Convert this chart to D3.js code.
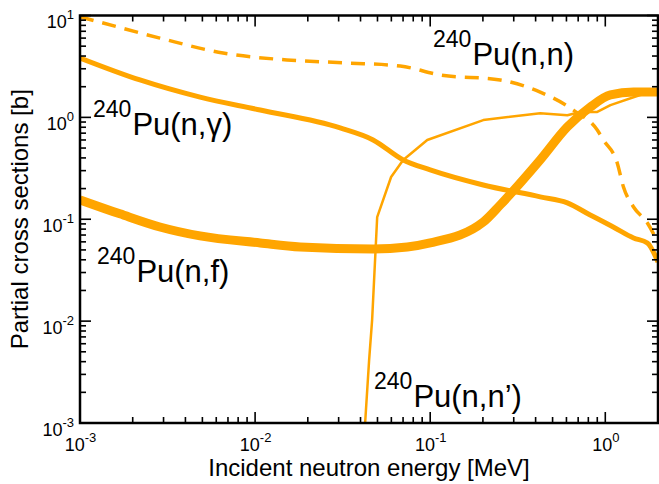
<!DOCTYPE html>
<html>
<head>
<meta charset="utf-8">
<script src="https://cdn.jsdelivr.net/npm/d3@7"></script>
<style>
  html, body { margin: 0; padding: 0; background: #fff; }
  svg text { font-family: "Liberation Sans", Arial, Helvetica, sans-serif; fill: #000; }
</style>
</head>
<body>
<div id="chart"></div>
<script>
// incident energy [MeV] and cross sections [b]
const elasticE = [0.001, 0.0013, 0.00286, 0.00656, 0.0152, 0.0336, 0.0674, 0.114, 0.251, 0.425, 0.657, 0.90, 0.975, 1.17, 1.27, 1.45, 1.74, 2.0];
const elasticV = [9.7, 8.6, 6.0, 4.28, 3.66, 3.42, 3.19, 2.61, 2.33, 1.77, 1.18, 0.75, 0.60, 0.357, 0.207, 0.132, 0.092, 0.0586];

const captureE = [0.001, 0.0022, 0.00485, 0.0107, 0.0306, 0.0472, 0.0701, 0.1, 0.201, 0.425, 0.607, 0.82, 1.11, 1.45, 1.74, 2.0];
const captureV = [3.83, 2.33, 1.58, 1.18, 0.787, 0.60, 0.382, 0.305, 0.217, 0.166, 0.145, 0.110, 0.084, 0.0655, 0.0585, 0.038];

const fissionE = [0.001, 0.00169, 0.00286, 0.00485, 0.0107, 0.0181, 0.0472, 0.074, 0.1, 0.201, 0.251, 0.425, 0.607, 0.82, 1.07, 1.45, 2.0];
const fissionV = [0.155, 0.113, 0.084, 0.0686, 0.0585, 0.0534, 0.0511, 0.0534, 0.0585, 0.094, 0.138, 0.382, 0.805, 1.26, 1.66, 1.77, 1.77];

const inelasticE = [0.0425, 0.0448, 0.0466, 0.0498, 0.0598, 0.0701, 0.0962, 0.201, 0.425, 0.607, 0.72, 0.90, 1.07, 1.58, 2.0];
const inelasticV = [0.001, 0.00416, 0.0103, 0.105, 0.26, 0.382, 0.60, 0.94, 1.10, 1.05, 1.13, 1.13, 1.32, 1.66, 1.77];

const xDecades = [0.001, 0.01, 0.1, 1];
const yDecades = [0.001, 0.01, 0.1, 1, 10];

const width = 659, height = 484;
const plotL = 80, plotR = 658, plotT = 15.5, plotB = 423;
const orange = "#FFA500";

const svg = d3.select("#chart").append("svg")
  .attr("width", width)
  .attr("height", height);

const x = d3.scaleLog().domain([0.001, 2]).range([plotL, plotR]);
const y = d3.scaleLog().domain([0.001, 10]).range([plotB, plotT]);

// minor ticks 2..9 of every decade, kept inside the domain
function minors(decades, scale) {
  const dom = scale.domain();
  const out = [];
  decades.forEach(d => {
    for (let k = 2; k <= 9; k++) {
      const v = d * k;
      if (v > dom[0] && v < dom[1]) out.push(v);
    }
  });
  return out;
}

const xMinor = minors(xDecades, x);
const yMinor = minors(yDecades, y);

svg.append("clipPath").attr("id", "plot")
  .append("rect")
  .attr("x", plotL).attr("y", plotT)
  .attr("width", plotR - plotL).attr("height", plotB - plotT);

// curves
const series = [
  { e: elasticE, v: elasticV, w: 3.5, dash: "14,9", curve: d3.curveMonotoneX },
  { e: captureE, v: captureV, w: 5, dash: null, curve: d3.curveMonotoneX },
  { e: fissionE, v: fissionV, w: 9, dash: null, curve: d3.curveMonotoneX },
  { e: inelasticE, v: inelasticV, w: 2.5, dash: null, curve: d3.curveLinear }
];

const plot = svg.append("g").attr("clip-path", "url(#plot)");
series.forEach(s => {
  const pts = s.e.map((e, i) => [e, s.v[i]]);
  const line = d3.line()
    .x(d => x(d[0]))
    .y(d => y(d[1]))
    .curve(s.curve);
  plot.append("path")
    .datum(pts)
    .attr("d", line)
    .attr("fill", "none")
    .attr("stroke", orange)
    .attr("stroke-width", s.w)
    .attr("stroke-linejoin", "round")
    .attr("stroke-dasharray", s.dash);
});

// inward tick marks on all four sides, as small filled rects
const xTicks = xMinor.map(v => ({ v, len: 6 })).concat(xDecades.map(v => ({ v, len: 11 })));
const yTicks = yMinor.map(v => ({ v, len: 6 })).concat(yDecades.map(v => ({ v, len: 11 })));
const tw = 1.6;
const ticks = svg.append("g").attr("fill", "#000");

ticks.selectAll("rect.xb").data(xTicks).join("rect").attr("class", "xb")
  .attr("x", d => x(d.v) - tw / 2).attr("width", tw)
  .attr("y", d => plotB - d.len).attr("height", d => d.len);
ticks.selectAll("rect.xt").data(xTicks).join("rect").attr("class", "xt")
  .attr("x", d => x(d.v) - tw / 2).attr("width", tw)
  .attr("y", plotT).attr("height", d => d.len);
ticks.selectAll("rect.yl").data(yTicks).join("rect").attr("class", "yl")
  .attr("y", d => y(d.v) - tw / 2).attr("height", tw)
  .attr("x", plotL).attr("width", d => d.len);
ticks.selectAll("rect.yr").data(yTicks).join("rect").attr("class", "yr")
  .attr("y", d => y(d.v) - tw / 2).attr("height", tw)
  .attr("x", d => plotR - d.len).attr("width", d => d.len);

// tick labels 10^n, placed through the axis generators
const exp = d => Math.round(Math.log10(d));

const xLab = svg.append("g").attr("transform", `translate(0,${plotB})`)
  .call(d3.axisBottom(x).tickValues(xDecades).tickSize(0).tickFormat(""));
xLab.select(".domain").remove();
xLab.selectAll(".tick text")
  .attr("dy", null)
  .attr("y", 28)
  .attr("font-size", 18)
  .each(function(d) {
    const t = d3.select(this);
    t.append("tspan").text("10");
    t.append("tspan").attr("font-size", 13).attr("dy", -9).text(exp(d));
  });

const yLab = svg.append("g").attr("transform", `translate(${plotL},0)`)
  .call(d3.axisLeft(y).tickValues(yDecades).tickSize(0).tickPadding(6).tickFormat(""));
yLab.select(".domain").remove();
yLab.selectAll(".tick text")
  .attr("dy", null)
  .attr("y", 12)
  .attr("font-size", 18)
  .each(function(d) {
    const t = d3.select(this);
    t.append("tspan").text("10");
    t.append("tspan").attr("font-size", 13).attr("dy", -9).text(exp(d));
  });

// frame
svg.append("rect")
  .attr("x", plotL).attr("y", plotT)
  .attr("width", plotR - plotL).attr("height", plotB - plotT)
  .attr("fill", "none")
  .attr("stroke", "#000")
  .attr("stroke-width", 2.5);

// axis titles
svg.append("text")
  .attr("x", (plotL + plotR) / 2)
  .attr("y", 476)
  .attr("text-anchor", "middle")
  .attr("font-size", 24)
  .text("Incident neutron energy [MeV]");

svg.append("text")
  .attr("transform", `translate(28,${(plotT + plotB) / 2}) rotate(-90)`)
  .attr("text-anchor", "middle")
  .attr("font-size", 24)
  .text("Partial cross sections [b]");

// reaction labels
const labels = [
  { text: "Pu(n,n)", x: 433, y: 65 },
  { text: "Pu(n,\u03b3)", x: 93, y: 135 },
  { text: "Pu(n,f)", x: 97, y: 282 },
  { text: "Pu(n,n\u2019)", x: 374, y: 407 }
];
labels.forEach(l => {
  const t = svg.append("text").attr("x", l.x).attr("y", l.y - 18);
  t.append("tspan").attr("font-size", 23).text("240");
  t.append("tspan").attr("font-size", 31).attr("dy", 18).attr("dx", 1).text(l.text);
});
</script>
</body>
</html>
